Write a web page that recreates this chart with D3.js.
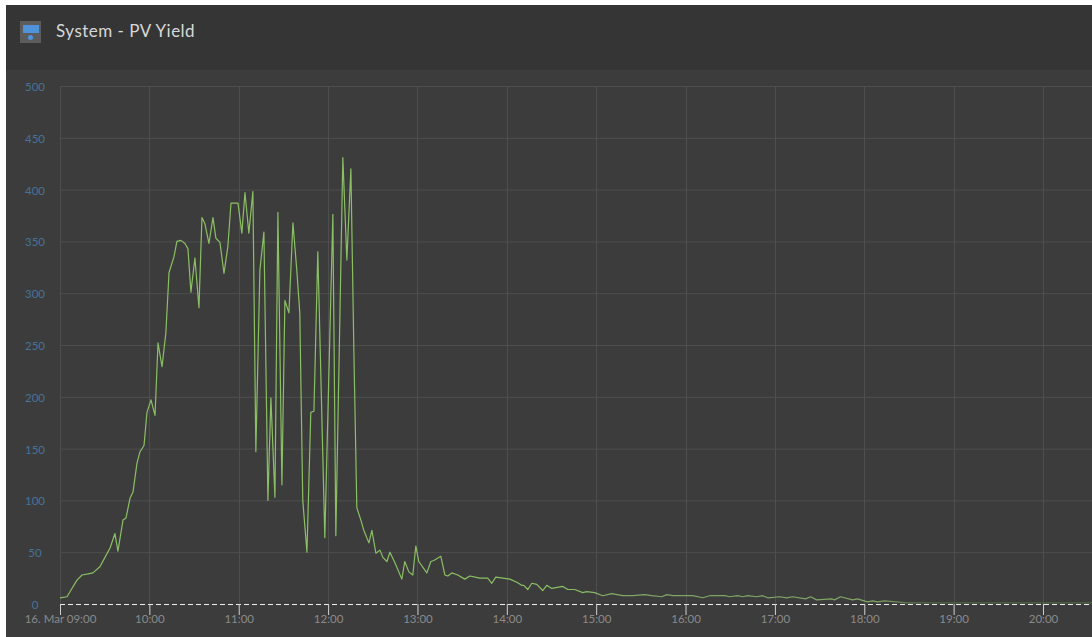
<!DOCTYPE html>
<html>
<head>
<meta charset="utf-8">
<script src="https://cdn.jsdelivr.net/npm/d3@7/dist/d3.min.js"></script>
<style>
  html, body { margin: 0; padding: 0; background: #fff; }
  svg { display: block; font-family: Lato, sans-serif; }
</style>
</head>
<body>
<svg width="1092" height="637"></svg>
<script>
const chartTitle = 'System - PV Yield';
const yTicks = [0, 50, 100, 150, 200, 250, 300, 350, 400, 450, 500];

// minutes after 09:00
const minutes = [
  0, 4.7, 8, 11.4, 14.8, 18.8, 22.1, 26.8, 30.2, 33.6, 36.9, 38.9, 42.3, 44.3, 47, 49, 51.7, 53.7, 56.4, 58.4,
  61.1, 63.8, 65.8, 68.5, 71.1, 73.2, 76.5, 78.5, 81.2, 83.9, 85.9, 87.9, 90.6, 93.3, 95.3, 97.3, 100, 102.7, 104.7, 107.4,
  110.1, 112.7, 114.8, 119.5, 122.1, 124.2, 126.8, 129.5, 131.5, 134.2, 136.9, 139.6, 141.6, 144.3, 146.3, 149, 151, 153.7, 156.4, 159,
  161, 163, 165.8, 168.4, 170.5, 173.1, 177.8, 183.2, 185.2, 189.9, 192.6, 195.3, 197.3, 199.3,
  202, 204, 207.4, 209.4, 212.1, 214.8, 216.8, 219.5, 221.5, 224.8, 229.5, 231.5, 234.2, 236.9, 238.9, 240.9, 246.3, 249, 251, 255.7,
  258.4, 260.4, 263.1, 267.1, 271.8, 275.2, 281.9, 287.2, 289.9, 292.6, 297.3, 302, 306.7, 310, 311.4, 314.1, 316.8, 320.1, 324.1, 326.8,
  330.2, 337.6, 340.9, 345.6, 351, 353.7, 359, 364.4, 370.4, 377.8, 384.5, 392.6, 397.3, 404, 407.4, 411.4, 424.8, 431.5, 436.2, 446.3,
  449.6, 455, 458.4, 461.7, 467.8, 471.8, 475.2, 483.2, 487.9, 491.9, 500.6, 504, 508, 518, 520, 524.1, 532.2, 535.5, 542.2, 545.6,
  548.9, 553.6, 561.7, 568.4, 575.1, 693
];
const pvYield = [
  6, 7, 15, 23, 28, 29, 30, 36, 45, 54, 68, 51, 81, 83, 102, 108, 136, 147, 153, 185,
  197, 182, 252, 229, 262, 320, 335, 350, 351, 348, 343, 301, 334, 286, 373, 367, 348, 373, 353, 349,
  319, 345, 387, 387, 358, 397, 358, 398, 147, 322, 359, 100, 199, 103, 378, 115, 293, 281, 368, 322,
  281, 100, 50, 185, 186, 340, 64, 376, 66, 431, 332, 420, 245, 93,
  81, 71, 59, 71, 49, 52, 45, 41, 50, 40, 24, 41, 31, 28, 56, 41, 30, 41, 42, 46,
  28, 27, 30, 28, 24, 27, 25, 25, 20, 26, 25, 24, 21, 18, 18, 14, 20, 19, 13, 18,
  15, 17, 14, 14, 11, 12, 11, 8, 10, 8, 8, 9, 8, 7, 9, 8, 8, 6, 8, 8,
  7, 8, 7, 8, 7, 8, 6, 7, 6, 7, 5, 7, 4, 5, 4, 7, 4, 5, 2, 3,
  2, 3, 2, 1, 1, 1
];

const startTime = Date.UTC(2016, 2, 16, 9, 0);
const minuteMs = 60000;
const dates = minutes.map(m => new Date(startTime + m * minuteMs));

const x = d3.scaleUtc()
  .domain([new Date(startTime), new Date(startTime + 692.9 * minuteMs)])
  .range([60, 1092]);
const y = d3.scaleLinear()
  .domain([0, 500])
  .range([604, 86]);

const svg = d3.select('svg');

// panel
svg.append('rect').attr('x', 6).attr('y', 5).attr('width', 1086).attr('height', 632).attr('fill', '#3c3c3c');
svg.append('rect').attr('x', 6).attr('y', 5).attr('width', 1086).attr('height', 65).attr('fill', '#353535');

// the line fades out along the low tail
const defs = svg.append('defs');
const lineGrad = defs.append('linearGradient').attr('id', 'line-grad')
  .attr('gradientUnits', 'userSpaceOnUse')
  .attr('x1', 0).attr('x2', 1092).attr('y1', 0).attr('y2', 0);
lineGrad.append('stop').attr('offset', 0.52).attr('stop-color', '#8abf63');
lineGrad.append('stop').attr('offset', 0.58).attr('stop-color', '#7fa566');
lineGrad.append('stop').attr('offset', 0.8).attr('stop-color', '#7fa566');
lineGrad.append('stop').attr('offset', 0.85).attr('stop-color', '#4d6640');

// header icon
svg.append('rect').attr('x', 20).attr('y', 21).attr('width', 21).attr('height', 22).attr('fill', '#5c5c5c');
svg.append('rect').attr('x', 23).attr('y', 25).attr('width', 16).attr('height', 8).attr('fill', '#4f94da');
svg.append('circle').attr('cx', 30.5).attr('cy', 37.5).attr('r', 2.5).attr('fill', '#4f94da');

svg.append('text')
  .attr('x', 56)
  .attr('y', 37)
  .attr('fill', '#d8d8d8')
  .style('font-size', '17px')
  .style('letter-spacing', '0.5px')
  .text(chartTitle);

// grid and y axis
const grid = svg.append('g').attr('class', 'grid');
grid.selectAll('.h')
  .data(yTicks.filter(d => d > 0))
  .join('line')
  .attr('class', 'h')
  .attr('x1', 60)
  .attr('x2', 1092)
  .attr('y1', d => y(d) + 0.5)
  .attr('y2', d => y(d) + 0.5)
  .attr('stroke', '#4e4e4e');

const hours = x.ticks(d3.utcHour.every(1));
grid.selectAll('.v')
  .data(hours)
  .join('line')
  .attr('class', 'v')
  .attr('x1', d => Math.round(x(d)) + 0.5)
  .attr('x2', d => Math.round(x(d)) + 0.5)
  .attr('y1', 86)
  .attr('y2', 604)
  .attr('stroke', '#4e4e4e');

svg.append('g')
  .selectAll('text')
  .data(yTicks)
  .join('text')
  .attr('x', 35)
  .attr('y', d => y(d) + 5)
  .attr('text-anchor', 'middle')
  .attr('fill', '#467399')
  .style('font-size', '11.5px')
  .text(d => d);

// pv yield line
const line = d3.line()
  .x((d, i) => x(dates[i]))
  .y(d => y(d));
svg.append('path')
  .datum(pvYield)
  .attr('fill', 'none')
  .attr('stroke', 'url(#line-grad)')
  .attr('stroke-width', 1.2)
  .attr('stroke-linejoin', 'round')
  .attr('d', line);

// x axis
svg.append('line')
  .attr('x1', 60)
  .attr('x2', 1092)
  .attr('y1', 604.5)
  .attr('y2', 604.5)
  .attr('stroke', '#efefef')
  .attr('stroke-width', 1.2)
  .attr('stroke-dasharray', '5,3');

const xAxis = d3.axisBottom(x)
  .tickValues(hours)
  .tickSize(11)
  .tickPadding(0)
  .tickFormat(d => (d.getTime() === startTime
    ? '16. Mar ' + d3.utcFormat('%H:%M')(d)
    : d3.utcFormat('%H:%M')(d)));

const xg = svg.append('g')
  .attr('transform', 'translate(0,604)')
  .call(xAxis);
xg.select('.domain').remove();
xg.selectAll('.tick line')
  .attr('stroke', '#d0d0d0');
xg.selectAll('.tick text')
  .attr('fill', '#8a8a8a')
  .style('font-size', '11.5px')
  .style('font-family', 'Lato, sans-serif');
</script>
</body>
</html>
